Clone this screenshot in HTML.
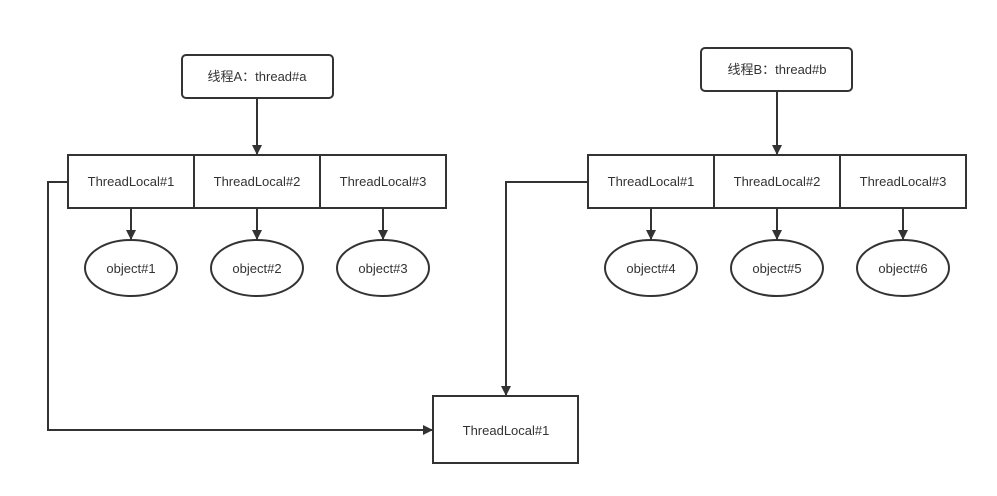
<!DOCTYPE html>
<html><head><meta charset="utf-8"><style>
html,body{margin:0;padding:0;background:#fff;width:997px;height:496px;overflow:hidden}
text{font-family:"Liberation Sans","Noto Sans CJK SC",sans-serif;font-size:13px;fill:#333}
</style></head><body>
<svg width="997" height="496" viewBox="0 0 997 496" xmlns="http://www.w3.org/2000/svg">
<defs><marker id="a" markerWidth="10" markerHeight="10" refX="9" refY="5" orient="auto" markerUnits="userSpaceOnUse"><path d="M0,0 L10,5 L0,10 z" fill="#333"/></marker></defs>
<g fill="#fff" stroke="#333" stroke-width="2">
<rect x="182" y="55" width="151" height="43" rx="4"/>
<rect x="701" y="48" width="151" height="43" rx="4"/>
<rect x="68" y="155" width="378" height="53"/>
<line x1="194" y1="155" x2="194" y2="208"/><line x1="320" y1="155" x2="320" y2="208"/>
<rect x="588" y="155" width="378" height="53"/>
<line x1="714" y1="155" x2="714" y2="208"/><line x1="840" y1="155" x2="840" y2="208"/>
<ellipse cx="131" cy="268" rx="46" ry="28"/><ellipse cx="257" cy="268" rx="46" ry="28"/><ellipse cx="383" cy="268" rx="46" ry="28"/>
<ellipse cx="651" cy="268" rx="46" ry="28"/><ellipse cx="777" cy="268" rx="46" ry="28"/><ellipse cx="903" cy="268" rx="46" ry="28"/>
<rect x="433" y="396" width="145" height="67"/>
</g>
<g fill="none" stroke="#333" stroke-width="2" marker-end="url(#a)">
<line x1="257" y1="98" x2="257" y2="154"/>
<line x1="777" y1="91" x2="777" y2="154"/>
<line x1="131" y1="208" x2="131" y2="239"/><line x1="257" y1="208" x2="257" y2="239"/><line x1="383" y1="208" x2="383" y2="239"/>
<line x1="651" y1="208" x2="651" y2="239"/><line x1="777" y1="208" x2="777" y2="239"/><line x1="903" y1="208" x2="903" y2="239"/>
<polyline points="68,182 48,182 48,430 432,430"/>
<polyline points="588,182 506,182 506,395"/>
</g>
<g text-anchor="middle">
<text x="257" y="81">线程A：thread#a</text>
<text x="777" y="74">线程B：thread#b</text>
<text x="131" y="186">ThreadLocal#1</text><text x="257" y="186">ThreadLocal#2</text><text x="383" y="186">ThreadLocal#3</text>
<text x="651" y="186">ThreadLocal#1</text><text x="777" y="186">ThreadLocal#2</text><text x="903" y="186">ThreadLocal#3</text>
<text x="131" y="273">object#1</text><text x="257" y="273">object#2</text><text x="383" y="273">object#3</text>
<text x="651" y="273">object#4</text><text x="777" y="273">object#5</text><text x="903" y="273">object#6</text>
<text x="506" y="435">ThreadLocal#1</text>
</g>
</svg>
</body></html>
